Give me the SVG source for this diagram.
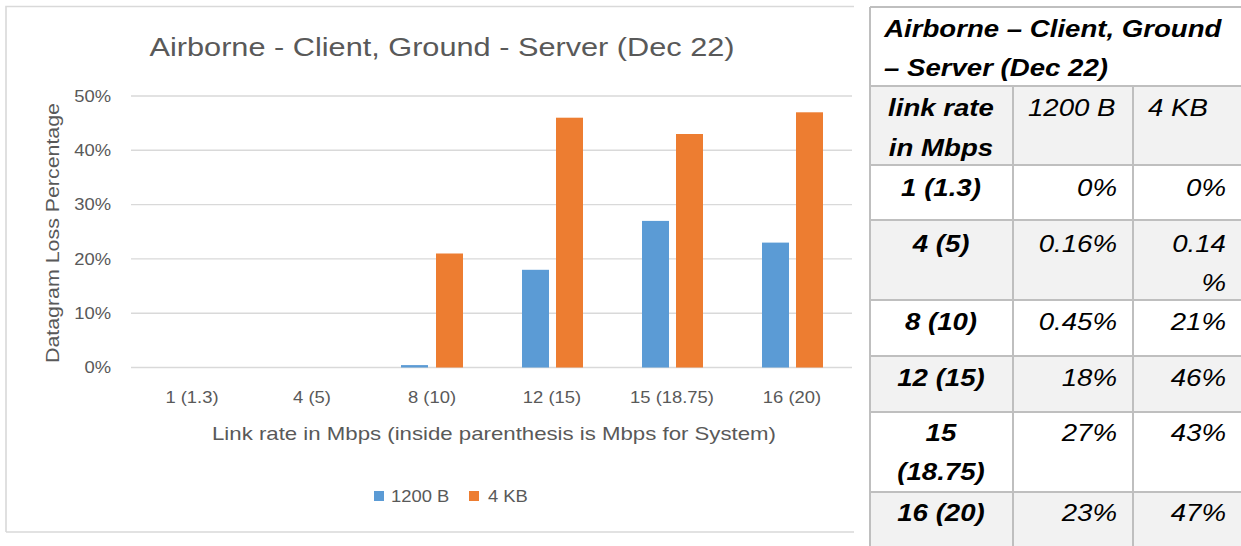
<svg xmlns="http://www.w3.org/2000/svg" width="1241" height="546" viewBox="0 0 1241 546">
<style>
text{font-family:"Liberation Sans",Arial,sans-serif}
.g{fill:#595959}
.sx{transform-box:fill-box;transform:scaleX(1.15)}
.m{transform-origin:center;text-anchor:middle}
.s{transform-origin:left center;text-anchor:start}
.e{transform-origin:right center;text-anchor:end}
.tick{font-size:16px}
.grid{stroke:#d9d9d9;stroke-width:1.4}
.b1{fill:#5b9bd5}
.b2{fill:#ed7d31}
.tb{font-size:24px;font-style:italic;fill:#000}
.bd{font-weight:bold}
.cell{stroke:#bfbfbf;stroke-width:2;fill:none}
.gr{fill:#f2f2f2}
</style>
<rect x="0" y="0" width="1241" height="546" fill="#ffffff"/>
<g id="chart">
  <path d="M6,532 V6.5 H854 M6,532 H854" fill="none" stroke="#d9d9d9" stroke-width="1.6"/>
  <text class="g" x="442" y="56" font-size="26.5" text-anchor="middle" textLength="585" lengthAdjust="spacingAndGlyphs">Airborne - Client, Ground - Server (Dec 22)</text>
  <g id="gridlines">
    <line class="grid" x1="131" y1="96" x2="852" y2="96"/>
    <line class="grid" x1="131" y1="150.3" x2="852" y2="150.3"/>
    <line class="grid" x1="131" y1="204.6" x2="852" y2="204.6"/>
    <line class="grid" x1="131" y1="258.9" x2="852" y2="258.9"/>
    <line class="grid" x1="131" y1="313.2" x2="852" y2="313.2"/>
    <line class="grid" x1="131" y1="367.5" x2="852" y2="367.5"/>
  </g>
  <g id="y-ticks">
    <text class="g tick sx e" x="111" y="102">50%</text>
    <text class="g tick sx e" x="111" y="156">40%</text>
    <text class="g tick sx e" x="111" y="210.5">30%</text>
    <text class="g tick sx e" x="111" y="265">20%</text>
    <text class="g tick sx e" x="111" y="319">10%</text>
    <text class="g tick sx e" x="111" y="373.5">0%</text>
  </g>
  <text class="g" transform="translate(59,233) rotate(-90)" x="0" y="0" font-size="18.5" text-anchor="middle" textLength="260" lengthAdjust="spacingAndGlyphs">Datagram Loss Percentage</text>
  <g id="bars-1200B">
    <rect class="b1" x="401" y="365.1" width="27" height="2.4"/>
    <rect class="b1" x="522" y="269.8" width="27" height="97.7"/>
    <rect class="b1" x="642" y="220.9" width="27" height="146.6"/>
    <rect class="b1" x="762" y="242.6" width="27" height="124.9"/>
  </g>
  <g id="bars-4KB">
    <rect class="b2" x="436" y="253.5" width="27" height="114"/>
    <rect class="b2" x="556" y="117.7" width="27" height="249.8"/>
    <rect class="b2" x="676" y="134" width="27" height="233.5"/>
    <rect class="b2" x="796" y="112.3" width="27" height="255.2"/>
  </g>
  <g id="x-ticks">
    <text class="g tick sx m" x="192" y="403">1 (1.3)</text>
    <text class="g tick sx m" x="312" y="403">4 (5)</text>
    <text class="g tick sx m" x="432" y="403">8 (10)</text>
    <text class="g tick sx m" x="552" y="403">12 (15)</text>
    <text class="g tick sx m" x="672" y="403">15 (18.75)</text>
    <text class="g tick sx m" x="792" y="403">16 (20)</text>
  </g>
  <text class="g" x="494" y="440" font-size="18.5" text-anchor="middle" textLength="564" lengthAdjust="spacingAndGlyphs">Link rate in Mbps (inside parenthesis is Mbps for System)</text>
  <g id="legend">
    <rect class="b1" x="374" y="491" width="10" height="10"/>
    <text class="g tick sx s" x="391" y="502">1200 B</text>
    <rect class="b2" x="469" y="491" width="10" height="10"/>
    <text class="g tick sx s" x="488" y="502">4 KB</text>
  </g>
</g>
<g id="table">
  <rect x="870" y="7" width="371" height="79" fill="#ffffff"/>
  <rect class="gr" x="870" y="86" width="371" height="79"/>
  <rect x="870" y="165" width="371" height="55" fill="#ffffff"/>
  <rect class="gr" x="870" y="220" width="371" height="80"/>
  <rect x="870" y="300" width="371" height="56" fill="#ffffff"/>
  <rect class="gr" x="870" y="356" width="371" height="56"/>
  <rect x="870" y="412" width="371" height="80" fill="#ffffff"/>
  <rect class="gr" x="870" y="492" width="371" height="54"/>
  <path class="cell" d="M870,7 H1241 M870,86 H1241 M870,165 H1241 M870,220 H1241 M870,300 H1241 M870,356 H1241 M870,412 H1241 M870,492 H1241 M870,7 V546 M1013,86 V546 M1133,86 V546"/>
  <text class="tb bd sx s" x="884" y="37">Airborne – Client, Ground</text>
  <text class="tb bd sx s" x="884" y="76">– Server (Dec 22)</text>
  <text class="tb bd sx m" x="941" y="116">link rate</text>
  <text class="tb bd sx m" x="941" y="156">in Mbps</text>
  <text class="tb sx s" x="1028" y="116">1200 B</text>
  <text class="tb sx s" x="1148" y="116">4 KB</text>
  <text class="tb bd sx m" x="941" y="196">1 (1.3)</text>
  <text class="tb sx e" x="1117" y="196">0%</text>
  <text class="tb sx e" x="1226" y="196">0%</text>
  <text class="tb bd sx m" x="941" y="252">4 (5)</text>
  <text class="tb sx e" x="1117" y="252">0.16%</text>
  <text class="tb sx e" x="1226" y="252">0.14</text>
  <text class="tb sx e" x="1226" y="291">%</text>
  <text class="tb bd sx m" x="941" y="330">8 (10)</text>
  <text class="tb sx e" x="1117" y="330">0.45%</text>
  <text class="tb sx e" x="1226" y="330">21%</text>
  <text class="tb bd sx m" x="941" y="386">12 (15)</text>
  <text class="tb sx e" x="1117" y="386">18%</text>
  <text class="tb sx e" x="1226" y="386">46%</text>
  <text class="tb bd sx m" x="941" y="441">15</text>
  <text class="tb bd sx m" x="941" y="480">(18.75)</text>
  <text class="tb sx e" x="1117" y="441">27%</text>
  <text class="tb sx e" x="1226" y="441">43%</text>
  <text class="tb bd sx m" x="941" y="521">16 (20)</text>
  <text class="tb sx e" x="1117" y="521">23%</text>
  <text class="tb sx e" x="1226" y="521">47%</text>
</g>
</svg>
